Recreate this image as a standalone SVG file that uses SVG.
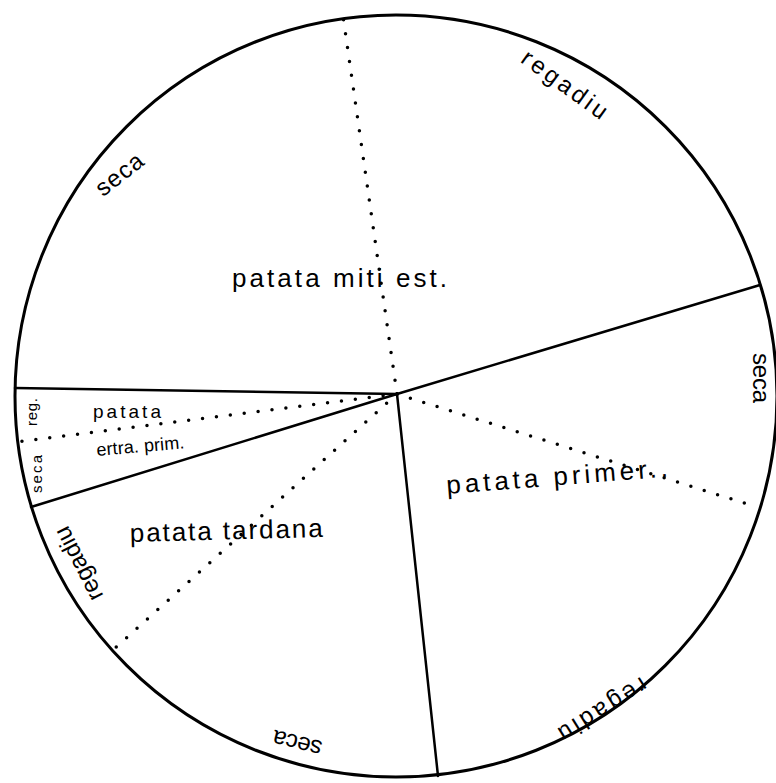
<svg xmlns="http://www.w3.org/2000/svg" width="776" height="783" viewBox="0 0 776 783">
<style>
.bg{fill:#fff}
.rim{fill:none;stroke:#000;stroke-width:3}
.solid{stroke:#000;stroke-width:2.5;stroke-linecap:round;fill:none}
.dot{stroke:#000;stroke-width:3.5;stroke-linecap:round;stroke-dasharray:0 14;fill:none}
text{font-family:"Liberation Sans","DejaVu Sans",sans-serif;fill:#000}
.big{font-size:26px}
.rl{font-size:24px;text-anchor:middle;dominant-baseline:central}
.sm{font-size:15px;text-anchor:middle;dominant-baseline:central}
</style>
<rect class="bg" x="0" y="0" width="776" height="783"/>
<g id="circle"><circle class="rim" cx="396" cy="396" r="381"/></g>
<g id="connectors">
<line class="solid" x1="397" y1="394" x2="15" y2="388"/>
<line class="solid" x1="397" y1="394" x2="760" y2="285"/>
<line class="solid" x1="397" y1="394" x2="31" y2="507"/>
<line class="solid" x1="397" y1="394" x2="438" y2="776"/>
<line class="dot" x1="397" y1="394" x2="343" y2="16"/>
<line class="dot" x1="397" y1="394" x2="757" y2="507"/>
<line class="dot" x1="397" y1="394" x2="16" y2="442"/>
<line class="dot" x1="397" y1="394" x2="113" y2="650"/>
</g>
<g id="patata-miti-est"><text class="big" x="232" y="287" textLength="215" lengthAdjust="spacing">patata miti est.</text></g>
<g id="patata-extra-prim">
<text x="93" y="418" font-size="19" textLength="68" lengthAdjust="spacing">patata</text>
<text x="97" y="456" font-size="18" textLength="88" lengthAdjust="spacing" transform="rotate(-5 97 456)">ertra. prim.</text>
</g>
<g id="patata-primer"><text class="big" x="447" y="494" textLength="222" lengthAdjust="spacing" transform="rotate(-4.5 447 494)">patata primer..</text></g>
<g id="patata-tardana"><text class="big" x="130" y="542" textLength="193" lengthAdjust="spacing" transform="rotate(-1.5 130 542)">patata tardana</text></g>
<g id="rim-labels">
<text class="rl" x="565" y="84" textLength="100" lengthAdjust="spacing" transform="rotate(36 565 84)">regadiu</text>
<text class="rl" x="119" y="174" textLength="54" lengthAdjust="spacing" transform="rotate(-38 119 174)">seca</text>
<text class="rl" x="761" y="378" textLength="50" lengthAdjust="spacing" transform="rotate(90 761 378)">seca</text>
<text class="rl" x="603" y="710" textLength="100" lengthAdjust="spacing" transform="rotate(148 603 710)">regadiu</text>
<text class="rl" x="297" y="744" textLength="50" lengthAdjust="spacing" transform="rotate(194 297 744)">seca</text>
<text class="rl" x="78" y="564" textLength="80" lengthAdjust="spacing" transform="rotate(-117 78 564)">regadiu</text>
<text class="sm" x="31" y="412" textLength="28" lengthAdjust="spacing" transform="rotate(-90 31 412)">reg.</text>
<text class="sm" x="36" y="474" textLength="38" lengthAdjust="spacing" transform="rotate(-90 36 474)">seca</text>
</g>
</svg>
